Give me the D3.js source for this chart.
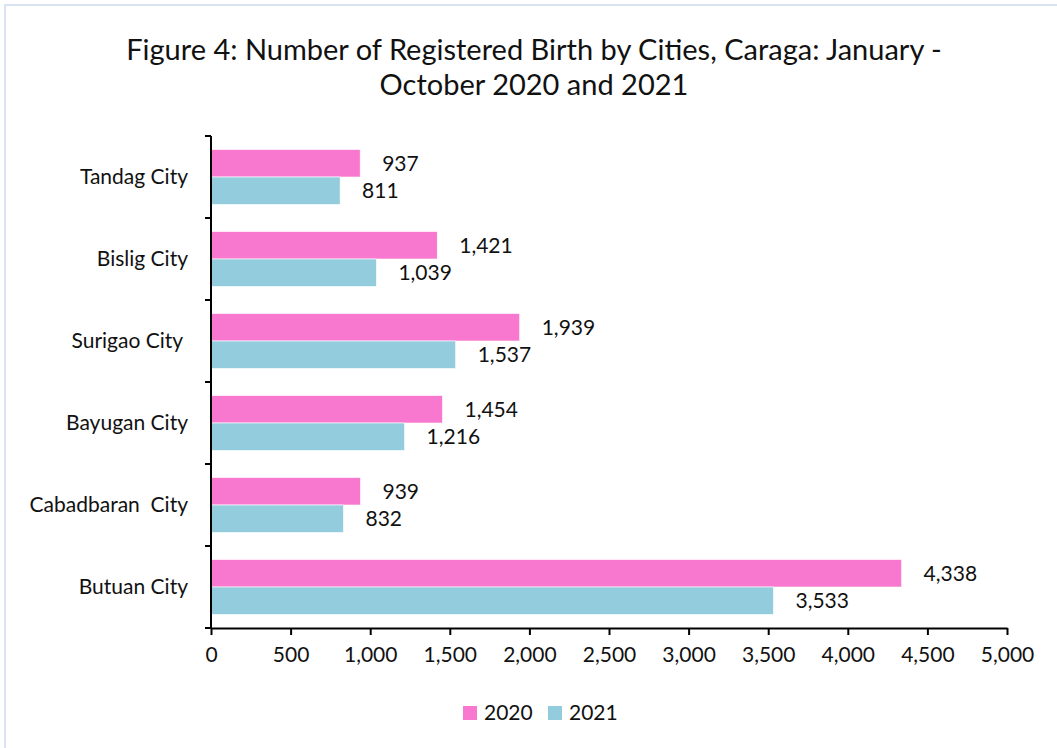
<!DOCTYPE html>
<html><head><meta charset="utf-8">
<script src="https://cdn.jsdelivr.net/npm/d3@7"></script>
<style>
html,body{margin:0;padding:0;background:#fff;}
svg{display:block;font-family:Lato, "Open Sans", sans-serif;}
</style></head>
<body><svg id="c" width="1057" height="748"></svg>
<script>
const categories = ["Tandag City","Bislig City","Surigao City ","Bayugan City","Cabadbaran  City","Butuan City"];
const series2020 = [937,1421,1939,1454,939,4338];
const series2021 = [811,1039,1537,1216,832,3533];
const seriesNames = ["2020","2021"];
const xTicks = [0,500,1000,1500,2000,2500,3000,3500,4000,4500,5000];
const colors = ["#f877cf","#93cddd"];
const titleLines = ["Figure 4: Number of Registered Birth by Cities, Caraga: January -","October 2020 and 2021"];

const FS = 21;
const svg = d3.select("#c");
svg.append("rect").attr("x",5).attr("y",5).attr("width",1060).attr("height",760)
  .attr("fill","#fff").attr("stroke","#d9e3f1").attr("stroke-width",2);

const m = {left:211, right:1007, top:136, bottom:628};
const x = d3.scaleLinear().domain([0,5000]).range([m.left,m.right]);
const y = d3.scaleBand().domain(categories).range([m.top,m.bottom]).paddingInner(0.33).paddingOuter(0.165);
const y2 = d3.scaleBand().domain(seriesNames).range([0,y.bandwidth()]);

const fmt = d3.format(",");
const data = categories.map((c,i)=>({c, vals:[series2020[i],series2021[i]]}));

const g = svg.append("g");
data.forEach(d=>{
  d.vals.forEach((v,j)=>{
    const yy = y(d.c)+y2(seriesNames[j]);
    g.append("rect").attr("x",x(0)).attr("y",yy).attr("width",x(v)-x(0)).attr("height",y2.bandwidth())
      .attr("fill",colors[j]).attr("stroke","#fff").attr("stroke-width",0.6);
    g.append("text").attr("x",x(v)+22).attr("y",yy+y2.bandwidth()/2).attr("dy","0.35em")
      .attr("font-size",FS).attr("fill","#111").text(fmt(v));
  });
});

// y axis
const yAxisG = svg.append("g").attr("transform",`translate(${m.left},0)`);
yAxisG.append("line").attr("x1",0).attr("x2",0).attr("y1",m.top).attr("y2",m.bottom).attr("stroke","#000").attr("stroke-width",2);
d3.range(categories.length+1).forEach(i=>{
  const yy = m.top + i*(m.bottom-m.top)/categories.length;
  yAxisG.append("line").attr("x1",-6).attr("x2",0).attr("y1",yy).attr("y2",yy).attr("stroke","#000").attr("stroke-width",2);
});
categories.forEach((c,i)=>{
  const yy = m.top + (i+0.5)*(m.bottom-m.top)/categories.length;
  yAxisG.append("text").attr("x",-23).attr("y",yy).attr("dy","0.35em").attr("text-anchor","end")
    .attr("font-size",FS).attr("fill","#111").style("white-space","pre").text(c);
});

// x axis
const xAxis = d3.axisBottom(x).tickValues(xTicks).tickFormat(fmt).tickSize(7).tickSizeOuter(0);
const xg = svg.append("g").attr("transform",`translate(0,${m.bottom})`).call(xAxis);
xg.select(".domain").attr("stroke","#000").attr("stroke-width",2);
xg.selectAll(".tick line").attr("stroke","#000").attr("stroke-width",2);
xg.selectAll(".tick text").attr("font-size",FS).attr("fill","#111").attr("y",19).attr("font-family","Lato, sans-serif");

// title
titleLines.forEach((t,i)=>{
  svg.append("text").attr("x",534).attr("y",60+i*35).attr("text-anchor","middle")
    .attr("font-size",29).attr("fill","#111").text(t);
});

// legend
const leg = svg.append("g");
const legX = [463,548];
seriesNames.forEach((s,i)=>{
  leg.append("rect").attr("x",legX[i]).attr("y",706).attr("width",14).attr("height",14).attr("fill",colors[i]);
  leg.append("text").attr("x",legX[i]+21).attr("y",713).attr("dy","0.35em").attr("font-size",FS).attr("fill","#111").text(s);
});
</script></body></html>
